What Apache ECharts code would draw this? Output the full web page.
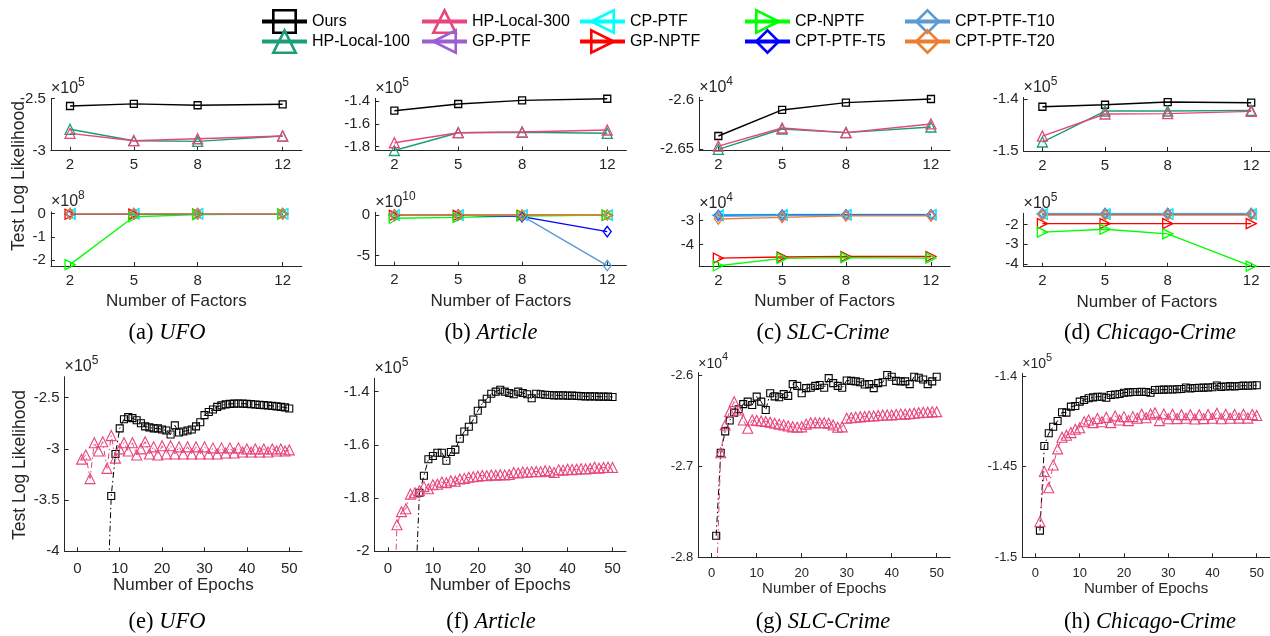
<!DOCTYPE html>
<html><head><meta charset="utf-8">
<script src="https://cdn.jsdelivr.net/npm/echarts@6/dist/echarts.min.js"></script>
<style>html,body{margin:0;padding:0;background:#fff}#c{width:1270px;height:636px}</style>
</head><body><div id="c"></div><script>
// ---------------- DATA ----------------
const factors = [2, 5, 8, 12];
const epochs = [1,2,3,4,5,6,7,8,9,10,11,12,13,14,15,16,17,18,19,20,21,22,23,24,25,26,27,28,29,30,31,32,33,34,35,36,37,38,39,40,41,42,43,44,45,46,47,48,49,50];

// (a) UFO  upper x10^5, lower x10^8
const ufoOurs   = [-2.57, -2.55, -2.563, -2.554];
const ufoHP100  = [-2.794, -2.904, -2.91, -2.859];
const ufoHP300  = [-2.833, -2.904, -2.885, -2.859];
const ufoGPPTF  = [-0.01, -0.006, -0.005, -0.005];
const ufoCPPTF  = [-0.004, -0.003, -0.003, -0.003];
const ufoGPNPTF = [-0.02, -0.015, -0.012, -0.01];
const ufoCPNPTF = [-2.2, -0.13, -0.04, -0.01];
const ufoT5     = [-0.003, -0.003, -0.003, -0.003];
const ufoT10    = [-0.003, -0.003, -0.003, -0.003];
const ufoT20    = [-0.005, -0.004, -0.004, -0.004];

// (b) Article  upper x10^5, lower x10^10
const artOurs   = [-1.485, -1.426, -1.394, -1.38];
const artHP100  = [-1.834, -1.678, -1.674, -1.683];
const artHP300  = [-1.766, -1.678, -1.672, -1.654];
const artGPPTF  = [-0.02, -0.02, -0.02, -0.02];
const artCPPTF  = [-0.01, -0.01, -0.01, -0.01];
const artGPNPTF = [-0.05, -0.05, -0.04, -0.04];
const artCPNPTF = [-0.4, -0.3, -0.12, -0.02];
const artT5     = [-0.01, -0.01, -0.2, -2.05];
const artT10    = [-0.01, -0.01, -0.1, -6.23];
const artT20    = [-0.01, -0.01, -0.01, -0.01];

// (c) SLC-Crime  upper x10^4, lower x10^4
const slcOurs   = [-2.6365, -2.6101, -2.6027, -2.599];
const slcHP100  = [-2.65, -2.6294, -2.6331, -2.6274];
const slcHP300  = [-2.6467, -2.6284, -2.6331, -2.6243];
const slcGPPTF  = [-2.78, -2.77, -2.76, -2.76];
const slcCPPTF  = [-2.75, -2.74, -2.74, -2.74];
const slcGPNPTF = [-4.57, -4.52, -4.5, -4.5];
const slcCPNPTF = [-4.89, -4.58, -4.55, -4.57];
const slcT5     = [-2.78, -2.77, -2.76, -2.76];
const slcT10    = [-2.8, -2.78, -2.77, -2.77];
const slcT20    = [-2.93, -2.86, -2.8, -2.8];

// (d) Chicago-Crime  upper x10^5, lower x10^5
const chiOurs   = [-1.4148, -1.411, -1.4058, -1.407];
const chiHP100  = [-1.4827, -1.423, -1.423, -1.4218];
const chiHP300  = [-1.4712, -1.4288, -1.428, -1.4237];
const chiGPPTF  = [-1.48, -1.48, -1.48, -1.48];
const chiCPPTF  = [-1.45, -1.45, -1.45, -1.45];
const chiGPNPTF = [-1.95, -1.95, -1.95, -1.95];
const chiCPNPTF = [-2.38, -2.24, -2.47, -4.1];
const chiT5     = [-1.45, -1.45, -1.45, -1.45];
const chiT10    = [-1.44, -1.44, -1.44, -1.44];
const chiT20    = [-1.52, -1.52, -1.52, -1.52];

// (e) UFO epochs x10^5
const ufoEpOurs = [null,null,null,null,null,null,-4.6,-3.46,-3.05,-2.80,-2.71,-2.69,-2.70,-2.72,-2.75,-2.78,-2.79,-2.80,-2.80,-2.81,-2.82,-2.86,-2.77,-2.84,-2.83,-2.82,-2.81,-2.78,-2.74,-2.67,-2.64,-2.615,-2.59,-2.575,-2.565,-2.56,-2.558,-2.557,-2.558,-2.56,-2.563,-2.567,-2.57,-2.573,-2.576,-2.58,-2.585,-2.59,-2.595,-2.605];
const ufoEpHP300 = [-3.1,-3.06,-3.29,-2.94,-3.02,-2.93,-3.19,-2.87,-3.09,-3.0,-2.94,-3.02,-2.94,-3.06,-3.0,-2.93,-3.05,-2.98,-3.06,-2.97,-3.05,-2.97,-3.05,-2.98,-3.05,-2.98,-3.05,-2.98,-3.05,-2.98,-3.05,-2.99,-3.05,-2.99,-3.04,-2.99,-3.04,-2.99,-3.03,-3.0,-3.03,-3.0,-3.03,-3.0,-3.03,-3.0,-3.02,-3.0,-3.02,-3.01];

// (f) Article epochs x10^5
const artEpOurs = [null,null,null,null,null,-2.2,-1.78,-1.716,-1.654,-1.642,-1.63,-1.63,-1.66,-1.627,-1.618,-1.577,-1.55,-1.532,-1.505,-1.472,-1.445,-1.427,-1.408,-1.40,-1.393,-1.40,-1.405,-1.41,-1.40,-1.405,-1.41,-1.425,-1.408,-1.41,-1.412,-1.413,-1.414,-1.414,-1.414,-1.415,-1.415,-1.416,-1.417,-1.418,-1.418,-1.418,-1.419,-1.419,-1.419,-1.42];
const artEpHP300 = [-2.4,-1.9,-1.851,-1.84,-1.785,-1.78,-1.772,-1.757,-1.765,-1.75,-1.748,-1.74,-1.742,-1.735,-1.737,-1.728,-1.726,-1.722,-1.72,-1.718,-1.715,-1.716,-1.713,-1.714,-1.712,-1.713,-1.711,-1.704,-1.706,-1.702,-1.703,-1.701,-1.7,-1.701,-1.697,-1.699,-1.704,-1.694,-1.695,-1.692,-1.693,-1.692,-1.69,-1.691,-1.689,-1.684,-1.688,-1.685,-1.684,-1.685];

// (g) SLC-Crime epochs x10^4
const slcEpOurs = [-2.7766,-2.6854,-2.662,-2.65,-2.6414,-2.6377,-2.632,-2.6293,-2.633,-2.6238,-2.6293,-2.6385,-2.62,-2.6235,-2.6245,-2.621,-2.623,-2.61,-2.612,-2.62,-2.6145,-2.614,-2.612,-2.611,-2.614,-2.6035,-2.609,-2.612,-2.614,-2.606,-2.6065,-2.607,-2.608,-2.6105,-2.61,-2.6145,-2.609,-2.608,-2.6,-2.602,-2.6065,-2.607,-2.607,-2.61,-2.602,-2.603,-2.605,-2.61,-2.607,-2.602];
const slcEpHP300 = [-2.84,-2.6854,-2.655,-2.64,-2.6293,-2.6385,-2.6495,-2.6586,-2.6495,-2.65,-2.6505,-2.651,-2.652,-2.653,-2.654,-2.655,-2.656,-2.657,-2.6575,-2.657,-2.654,-2.6525,-2.6524,-2.6524,-2.6524,-2.653,-2.655,-2.6575,-2.657,-2.6476,-2.647,-2.6465,-2.646,-2.6455,-2.645,-2.645,-2.6445,-2.644,-2.644,-2.644,-2.6435,-2.643,-2.643,-2.6425,-2.642,-2.6415,-2.641,-2.641,-2.6405,-2.6403];

// (h) Chicago-Crime epochs x10^5
const chiEpOurs = [-1.4853,-1.4386,-1.4316,-1.428,-1.4248,-1.42,-1.4202,-1.4169,-1.4165,-1.4141,-1.4132,-1.4123,-1.4118,-1.4114,-1.4114,-1.412,-1.4105,-1.4102,-1.4099,-1.4092,-1.409,-1.4088,-1.4088,-1.4087,-1.4088,-1.4092,-1.4077,-1.4076,-1.4075,-1.4074,-1.4074,-1.4073,-1.4072,-1.4063,-1.4068,-1.4066,-1.4065,-1.4064,-1.4063,-1.4062,-1.4052,-1.406,-1.4058,-1.4056,-1.4057,-1.4055,-1.4053,-1.4054,-1.4052,-1.4051];
const chiEpHP300 = [-1.4803,-1.4527,-1.4616,-1.4491,-1.4402,-1.4338,-1.4327,-1.4312,-1.4294,-1.4285,-1.4252,-1.4243,-1.4257,-1.4234,-1.4252,-1.4228,-1.4257,-1.422,-1.4243,-1.4224,-1.4246,-1.4224,-1.4233,-1.4211,-1.423,-1.421,-1.4202,-1.4246,-1.4209,-1.4236,-1.4211,-1.4235,-1.4213,-1.4233,-1.4214,-1.4237,-1.4213,-1.4235,-1.4212,-1.4233,-1.4205,-1.4236,-1.4211,-1.4233,-1.4212,-1.4232,-1.4211,-1.4232,-1.4212,-1.4218];

// tick labels
const factorTicks = [2, 5, 8, 12];
const epochTicks = [0, 10, 20, 30, 40, 50];
const ufoUpTicks = [-3, -2.5], ufoLowTicks = [-2, -1, 0];
const artUpTicks = [-1.8, -1.6, -1.4], artLowTicks = [-5, 0];
const slcUpTicks = [-2.65, -2.6], slcLowTicks = [-4, -3];
const chiUpTicks = [-1.5, -1.4], chiLowTicks = [-4, -3, -2];
const ufoEpTicks = [-4, -3.5, -3, -2.5];
const artEpTicks = [-2, -1.8, -1.6, -1.4];
const slcEpTicks = [-2.8, -2.7, -2.6];
const chiEpTicks = [-1.5, -1.45, -1.4];

// ---------------- STYLE ----------------
const FONT = 'Liberation Sans, Arial, Helvetica, sans-serif';
const SERIF = 'Liberation Serif, Times New Roman, serif';
const AXC = '#262626';
const STY = {
  'Ours':         {color:'#000000', symbol:'rect', rot:0},
  'HP-Local-100': {color:'#1b9e77', symbol:'triangle', rot:0},
  'HP-Local-300': {color:'#e7457c', symbol:'triangle', rot:0},
  'GP-PTF':       {color:'#9b5fd0', symbol:'triangle', rot:90},
  'CP-PTF':       {color:'#00ffff', symbol:'triangle', rot:90},
  'GP-NPTF':      {color:'#ff0000', symbol:'triangle', rot:-90},
  'CP-NPTF':      {color:'#00ff00', symbol:'triangle', rot:-90},
  'CPT-PTF-T5':   {color:'#0000ff', symbol:'diamond', rot:0},
  'CPT-PTF-T10':  {color:'#5b9bd5', symbol:'diamond', rot:0},
  'CPT-PTF-T20':  {color:'#ed7d31', symbol:'diamond', rot:0}
};

// grids: [left, right, top, bottom] in px
const GR = [
  [50.9, 301.8, 98.7, 150.7],  [50.9, 301.8, 211.9, 266],
  [375.2, 626.4, 98.3, 150.5], [375.2, 626.4, 212.3, 265.7],
  [699.2, 950.1, 97.3, 150.7], [699.2, 950.1, 213.3, 266],
  [1023.6, 1274.4, 97.5, 151], [1023.6, 1274.4, 213.3, 266.7],
  [64.6, 302, 376.7, 551.3],   [374.5, 626, 378.3, 551.3],
  [698.2, 950.2, 372.7, 557],  [1022.2, 1273.5, 373.3, 557.3]
];
const YR = [
  [-3, -2.5], [-2.26, 0.08],
  [-1.834, -1.376], [-6.25, 0.33],
  [-2.6514, -2.5973], [-4.9, -2.69],
  [-1.5, -1.397], [-4.13, -1.43],
  [-4, -2.295], [-2, -1.35], [-2.8, -2.5975], [-1.5, -1.3985]
];
const YT = [ufoUpTicks, ufoLowTicks, artUpTicks, artLowTicks, slcUpTicks, slcLowTicks, chiUpTicks, chiLowTicks, ufoEpTicks, artEpTicks, slcEpTicks, chiEpTicks];
const EXP = ['5','8','5','10','4','4','5','5','5','5','4','5'];

const grids = GR.map(g => ({left: g[0], top: g[2], width: g[1]-g[0], height: g[3]-g[2], containLabel: false}));

const xAxes = [], yAxes = [];
GR.forEach((g, i) => {
  const top = i < 8;
  const lower = top && i % 2 === 1;
  const small = (i === 10 || i === 11);
  const fs = small ? 13 : 15;
  xAxes.push({
    gridIndex: i, type: 'value',
    min: top ? 1.1 : -3, max: top ? 12.9 : 53,
    axisLine: {show: true, onZero: false, lineStyle: {color: AXC, width: 1}},
    axisTick: {show: true, inside: true, length: 4, customValues: top ? factorTicks : epochTicks, lineStyle: {color: AXC}},
    axisLabel: {customValues: top ? factorTicks : epochTicks, margin: top ? 7 : 10, fontSize: fs, color: AXC, fontFamily: FONT},
    splitLine: {show: false},
    name: lower ? 'Number of Factors' : (!top ? 'Number of Epochs' : ''),
    nameLocation: 'middle', nameGap: lower ? 27 : (small ? 24 : 26),
    nameTextStyle: {fontSize: small ? 15 : 17, color: AXC, fontFamily: FONT}
  });
  yAxes.push({
    gridIndex: i, type: 'value', min: YR[i][0], max: YR[i][1],
    axisLine: {show: true, onZero: false, lineStyle: {color: AXC, width: 1}},
    axisTick: {show: true, inside: true, length: 4, customValues: YT[i], lineStyle: {color: AXC}},
    axisLabel: {customValues: YT[i], margin: 5, fontSize: fs, color: AXC, fontFamily: FONT},
    splitLine: {show: false},
    name: '{m|×10}{s|' + EXP[i] + '}', nameLocation: 'end', nameGap: 2,
    nameTextStyle: {align: 'left', verticalAlign: 'bottom', color: AXC, fontFamily: FONT, fontSize: small ? 14 : 16,
      rich: {m: {fontSize: small ? 14 : 16, color: AXC, fontFamily: FONT, verticalAlign: 'bottom'},
             s: {fontSize: small ? 11 : 12, color: AXC, fontFamily: FONT, verticalAlign: 'bottom', padding: [0,0,8,0]}}}
  });
});

function pairs(xs, ys) { return xs.map((x, k) => [x, ys[k]]); }
function mk(name, xs, ys, idx, o) {
  const s = STY[name];
  return {
    name, type: 'line', xAxisIndex: idx, yAxisIndex: idx,
    data: pairs(xs, ys),
    symbol: s.symbol, symbolRotate: s.rot,
    symbolSize: s.symbol === 'rect' ? o.sq : (s.symbol === 'diamond' ? [o.tri*0.8, o.tri*1.05] : o.tri),
    itemStyle: {color: 'rgba(255,255,255,0)', borderColor: s.color, borderWidth: o.bw},
    lineStyle: {color: s.color, width: o.lw, type: o.dash || 'solid'},
    showSymbol: true, showAllSymbol: true, clip: true, connectNulls: false,
    emphasis: {disabled: true}, silent: true
  };
}
const TOPU = {sq: 7, tri: 10, bw: 1.3, lw: 1.4};
const TOPL = {sq: 7, tri: 10, bw: 1.3, lw: 1.4};
const BOT = {sq: 7, tri: 10, bw: 1.1, lw: 1, dash: [6, 3, 1.5, 3]};

const series = [];
const upper = [[ufoOurs, ufoHP100, ufoHP300], [artOurs, artHP100, artHP300], [slcOurs, slcHP100, slcHP300], [chiOurs, chiHP100, chiHP300]];
const lowerSets = [
  [ufoGPPTF, ufoCPPTF, ufoGPNPTF, ufoCPNPTF, ufoT5, ufoT10, ufoT20],
  [artGPPTF, artCPPTF, artGPNPTF, artCPNPTF, artT5, artT10, artT20],
  [slcGPPTF, slcCPPTF, slcGPNPTF, slcCPNPTF, slcT5, slcT10, slcT20],
  [chiGPPTF, chiCPPTF, chiGPNPTF, chiCPNPTF, chiT5, chiT10, chiT20]
];
const lowerNames = ['GP-PTF', 'CP-PTF', 'GP-NPTF', 'CP-NPTF', 'CPT-PTF-T5', 'CPT-PTF-T10', 'CPT-PTF-T20'];
upper.forEach((set, p) => {
  series.push(mk('Ours', factors, set[0], 2*p, TOPU));
  series.push(mk('HP-Local-100', factors, set[1], 2*p, TOPU));
  series.push(mk('HP-Local-300', factors, set[2], 2*p, TOPU));
});
lowerSets.forEach((set, p) => {
  set.forEach((vals, k) => series.push(mk(lowerNames[k], factors, vals, 2*p+1, TOPL)));
});
const epSets = [[ufoEpOurs, ufoEpHP300], [artEpOurs, artEpHP300], [slcEpOurs, slcEpHP300], [chiEpOurs, chiEpHP300]];
epSets.forEach((set, p) => {
  series.push(mk('Ours', epochs, set[0], 8+p, BOT));
  series.push(mk('HP-Local-300', epochs, set[1], 8+p, BOT));
});

const legendCols = [
  [260, ['Ours', 'HP-Local-100']],
  [420, ['HP-Local-300', 'GP-PTF']],
  [578, ['CP-PTF', 'GP-NPTF']],
  [743, ['CP-NPTF', 'CPT-PTF-T5']],
  [903, ['CPT-PTF-T10', 'CPT-PTF-T20']]
];
const legends = legendCols.map(c => ({
  show: true, orient: 'vertical', left: c[0], top: 9,
  data: c[1], itemWidth: 45, itemHeight: 28, itemGap: -5,
  selectedMode: false, padding: 0,
  textStyle: {fontSize: 16, color: '#000', fontFamily: FONT},
  itemStyle: {borderWidth: 2.6},
  lineStyle: {width: 4}
}));

const captions = [
  ['(a) ', 'UFO', 167, 333], ['(b) ', 'Article', 491, 333], ['(c) ', 'SLC-Crime', 823, 333], ['(d) ', 'Chicago-Crime', 1150, 333],
  ['(e) ', 'UFO', 167, 622], ['(f) ', 'Article', 491, 622], ['(g) ', 'SLC-Crime', 823, 622], ['(h) ', 'Chicago-Crime', 1150, 622]
];
const graphic = captions.map(c => ({
  type: 'text', x: c[2], y: c[3],
  style: {text: '{n|' + c[0] + '}{i|' + c[1] + '}', align: 'center', verticalAlign: 'middle',
    rich: {n: {fontSize: 22.5, fontFamily: SERIF, fill: '#000'}, i: {fontSize: 22.5, fontFamily: SERIF, fontStyle: 'italic', fill: '#000'}}}
}));
graphic.push({type: 'text', x: 19, y: 176, rotation: Math.PI/2,
  style: {text: 'Test Log Likelihood', align: 'center', verticalAlign: 'middle', fontSize: 17.5, fontFamily: FONT, fill: AXC}});
graphic.push({type: 'text', x: 20, y: 465, rotation: Math.PI/2,
  style: {text: 'Test Log Likelihood', align: 'center', verticalAlign: 'middle', fontSize: 17.5, fontFamily: FONT, fill: AXC}});

const chart = echarts.init(document.getElementById('c'), null, {renderer: 'canvas'});
chart.setOption({
  backgroundColor: '#fff', animation: false,
  grid: grids, xAxis: xAxes, yAxis: yAxes, series, legend: legends, graphic
});
</script></body></html>
